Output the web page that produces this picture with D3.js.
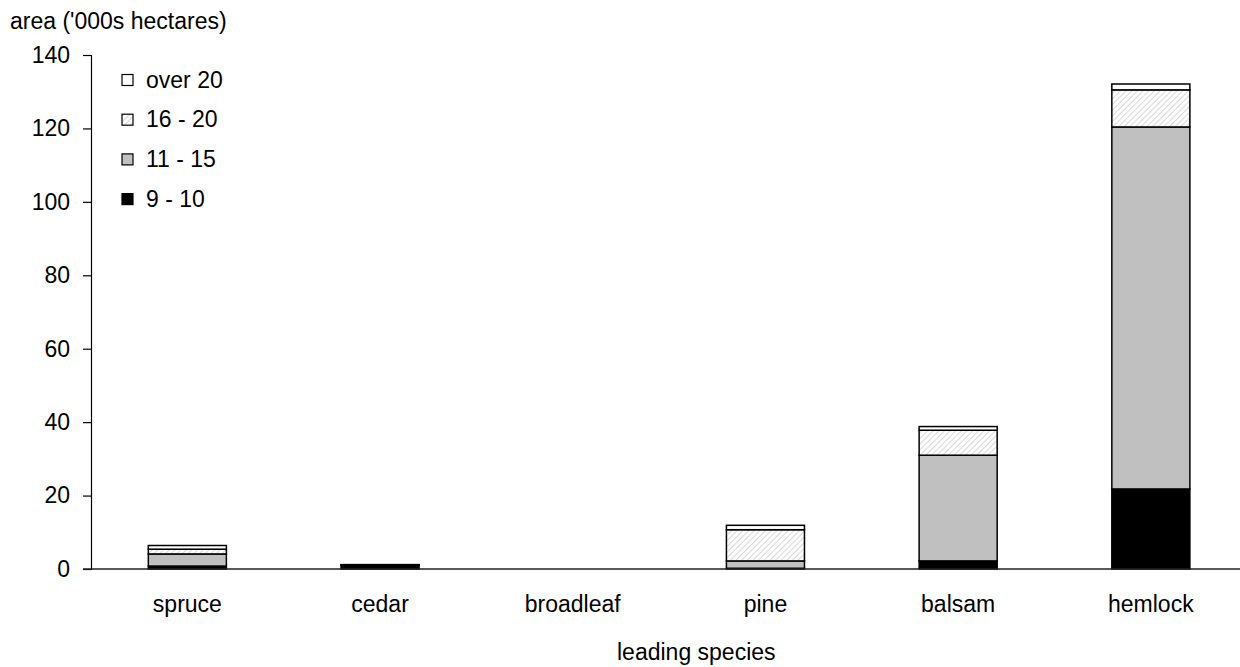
<!DOCTYPE html>
<html><head><meta charset="utf-8">
<script src="https://cdn.jsdelivr.net/npm/d3@7"></script>
<style>body{margin:0;background:#fff;} text{font-family:"Liberation Sans",Arial,sans-serif;}</style>
</head><body>
<svg id="c" width="1240" height="667"></svg>
<script>
const categories = ["spruce","cedar","broadleaf","pine","balsam","hemlock"];
const seriesNames = ["9 - 10","11 - 15","16 - 20","over 20"];
const s9_10   = [0.8, 1.0, 0, 0.2, 2.2, 21.8];
const s11_15  = [3.3, 0.1, 0, 2.0, 28.8, 98.6];
const s16_20  = [1.3, 0, 0, 8.5, 6.8, 10.1];
const sOver20 = [1.0, 0.1, 0, 1.2, 1.0, 1.6];
const yTicks = [0,20,40,60,80,100,120,140];

const FS = 23;
const svg = d3.select("#c");
const defs = svg.append("defs");
const pat = defs.append("pattern").attr("id","hatch").attr("patternUnits","userSpaceOnUse")
  .attr("width",4).attr("height",4).attr("patternTransform","rotate(45)");
pat.append("rect").attr("width",4).attr("height",4).attr("fill","#fff");
pat.append("line").attr("x1",0).attr("y1",0).attr("x2",0).attr("y2",4).attr("stroke","#cfcfcf").attr("stroke-width",1.6);

const fills = ["#000000","#c0c0c0","url(#hatch)","#ffffff"];
const mLeft = 91, mTop = 55, mBottom = 569;
const x = d3.scaleBand().domain(categories).range([mLeft, mLeft + 6*192.7]).paddingInner(0.595).paddingOuter(0.2975);
const y = d3.scaleLinear().domain([0,140]).range([mBottom, mTop]);

const rows = categories.map((c,i)=>({cat:c, "9 - 10":s9_10[i], "11 - 15":s11_15[i], "16 - 20":s16_20[i], "over 20":sOver20[i]}));
const stacked = d3.stack().keys(seriesNames)(rows);

stacked.forEach((layer, li) => {
  svg.append("g").selectAll("rect").data(layer.filter(d=>d[1]-d[0]>0)).join("rect")
    .attr("x", d=>x(d.data.cat)).attr("width", x.bandwidth())
    .attr("y", d=>y(d[1])).attr("height", d=>y(d[0])-y(d[1]))
    .attr("fill", fills[li]).attr("stroke","#000").attr("stroke-width",1.5);
});

// y axis
const ya = svg.append("g").attr("transform",`translate(${mLeft},0)`)
  .call(d3.axisLeft(y).tickValues(yTicks).tickSize(8).tickPadding(13));
ya.select(".domain").attr("stroke","#000").attr("stroke-width",1.2);
ya.selectAll(".tick line").attr("stroke","#000").attr("stroke-width",1.2);
ya.selectAll("text").attr("font-size",FS).attr("fill","#000").attr("font-family","Liberation Sans, Arial, sans-serif");

// x axis
const xa = svg.append("g").attr("transform",`translate(0,${mBottom})`)
  .call(d3.axisBottom(x).tickSize(0).tickPadding(27));
xa.select(".domain").attr("stroke","#222").attr("stroke-width",1.5).attr("d",`M${mLeft-8},0H1240`);
xa.selectAll("text").attr("font-size",FS).attr("fill","#000").attr("font-family","Liberation Sans, Arial, sans-serif");

svg.append("text").attr("x",10).attr("y",29).attr("font-size",FS).text("area ('000s hectares)");
svg.append("text").attr("x",617).attr("y",660).attr("font-size",FS).text("leading species");

// legend
const legOrder = [3,2,1,0];
const lg = svg.append("g");
legOrder.forEach((si, k) => {
  const yy = 80 + k*39.7;
  lg.append("rect").attr("x",122).attr("y",yy-5.5).attr("width",11).attr("height",11)
    .attr("fill",fills[si]).attr("stroke","#000").attr("stroke-width",1.2);
  lg.append("text").attr("x",146).attr("y",yy+7.5).attr("font-size",FS).text(seriesNames[si]);
});
</script>
</body></html>
